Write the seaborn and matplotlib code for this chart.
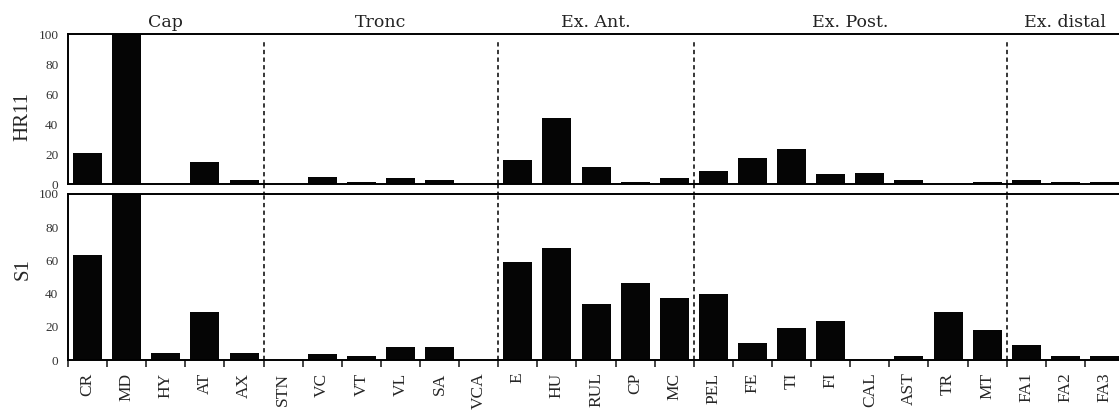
import pandas as pd
import seaborn as sns
import matplotlib.pyplot as plt
from matplotlib.ticker import FixedLocator

# data
elements = ['CR', 'MD', 'HY', 'AT', 'AX',
            'STN', 'VC', 'VT', 'VL', 'SA', 'VCA',
            'E', 'HU', 'RUL', 'CP', 'MC',
            'PEL', 'FE', 'TI', 'FI', 'CAL', 'AST', 'TR', 'MT',
            'FA1', 'FA2', 'FA3']
hr11 = [21, 100, 0, 15, 3,
        0, 5, 1.5, 4, 3, 0,
        16, 44, 11.5, 1.5, 4,
        9, 17.5, 23.5, 6.5, 7.5, 3, 0, 1.5,
        3, 1.5, 1.5]
s1 = [63, 100, 4.5, 29, 4.5,
      0, 3.5, 2.5, 8, 8, 0,
      59, 67.5, 33.5, 46.5, 37.5,
      40, 10, 19, 23.5, 0, 2.5, 29, 18,
      9, 2.5, 2.5]
groups = ['Cap', 'Tronc', 'Ex. Ant.', 'Ex. Post.', 'Ex. distal']
group_sizes = [5, 6, 5, 8, 3]

df = pd.DataFrame({'element': elements, 'HR11': hr11, 'S1': s1})

sns.set_style('white')
plt.rcParams['font.family'] = ['Liberation Serif', 'DejaVu Serif']

fig = plt.figure(figsize=(11.19, 4.11), dpi=100)
ax1 = fig.add_axes([0.0608, 0.552, 0.9437, 0.365])
ax2 = fig.add_axes([0.0608, 0.124, 0.9437, 0.404])

bounds = []
pos = -0.5
for n in group_sizes:
    bounds.append((pos, pos + n))
    pos += n

dash = (0, (2.8, 2.2))

for ax, col in [(ax1, 'HR11'), (ax2, 'S1')]:
    sns.barplot(data=df, x='element', y=col, order=elements, color='#050505',
                width=0.74, edgecolor='none', saturation=1, ax=ax)
    ax.set_xlim(-0.5, len(elements) - 0.5)
    ax.set_ylim(0, 100)
    ax.set_yticks([0, 20, 40, 60, 80, 100])
    ax.tick_params(axis='y', which='major', direction='out', length=5, width=1.2,
                   labelsize=9.5, pad=2, colors='black', labelcolor='#333333')
    ax.set_ylabel(col, fontsize=15, labelpad=4)
    ax.set_xlabel('')
    for side in ['top', 'left', 'bottom']:
        ax.spines[side].set_visible(True)
        ax.spines[side].set_linewidth(1.4)
        ax.spines[side].set_color('black')
    ax.spines['right'].set_visible(False)
    for lo, hi in bounds[1:]:
        ax.axvline(lo, color='black', linestyle=dash, linewidth=1.1,
                   ymin=0, ymax=0.97 if ax is ax1 else 1)

# dashed lines continue through the gap between panels
for lo, hi in bounds[1:]:
    ax1.plot([lo, lo], [0, -8], color='black', linestyle=dash,
             linewidth=1.1, clip_on=False)

ax1.set_xticks([])
ax1.yaxis.label.set_position((0, 0.45))
ax2.yaxis.label.set_position((0, 0.55))

ax2.set_xticks(range(len(elements)))
ax2.set_xticklabels(elements, rotation=90, fontsize=12.5)
ax2.xaxis.set_minor_locator(FixedLocator([i - 0.5 for i in range(len(elements) + 1)]))
ax2.tick_params(axis='x', which='major', length=0, pad=9)
ax2.tick_params(axis='x', which='minor', direction='out', length=5, width=1.2,
                bottom=True)

for (lo, hi), name in zip(bounds, groups):
    ax1.text((lo + hi) / 2, 102, name, ha='center', va='bottom', fontsize=12.5,
             family='DejaVu Serif', color='#222222')

fig.savefig('out.png', dpi=100)
